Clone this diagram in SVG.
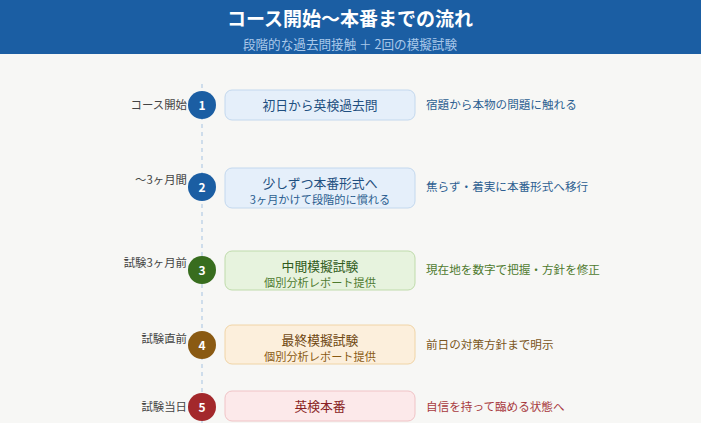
<svg xmlns="http://www.w3.org/2000/svg" width="701" height="423" viewBox="0 0 701 423">
<style>
text{font-family:"Noto Sans CJK JP","Noto Sans",sans-serif}
.lbl{font-size:11.4px;fill:#444;text-anchor:end}
.num{font-size:12px;font-weight:bold;fill:#fff;text-anchor:middle}
.t{font-size:12.8px;text-anchor:middle}
.s{font-size:11.2px;text-anchor:middle}
.r{font-size:11.6px}
</style>
<rect width="701" height="423" fill="#f7f7f5"/>
<rect width="701" height="54" fill="#1b5ea3"/>
<text x="350" y="26" text-anchor="middle" font-size="19" font-weight="bold" fill="#fff">コース開始〜本番までの流れ</text>
<text x="350" y="49" text-anchor="middle" font-size="12.6" fill="#a9c8ea">段階的な過去問接触 ＋ 2回の模擬試験</text>
<g id="connectors">
<line x1="202" y1="84" x2="202" y2="423" stroke="#b4cce4" stroke-width="1.2" stroke-dasharray="4,4"/>
</g>
<g id="n1">
<text class="lbl" x="187" y="109">コース開始</text>
<circle cx="202" cy="105" r="14" fill="#1b5ea3"/><text class="num" x="202" y="109.5">1</text>
<rect x="225" y="90" width="190" height="30" rx="7" fill="#e5effa" stroke="#c3d8ee"/>
<text class="t" x="320" y="110" fill="#1f4f80">初日から英検過去問</text>
<text class="r" x="426" y="109" fill="#2d5f91">宿題から本物の問題に触れる</text>
</g>
<g id="n2">
<text class="lbl" x="187" y="184">〜3ヶ月間</text>
<circle cx="202" cy="187" r="14" fill="#1b5ea3"/><text class="num" x="202" y="191.5">2</text>
<rect x="225" y="168" width="190" height="40" rx="7" fill="#e5effa" stroke="#c3d8ee"/>
<text class="t" x="320" y="188" fill="#1f4f80">少しずつ本番形式へ</text>
<text class="s" x="320" y="204" fill="#2d5f91">3ヶ月かけて段階的に慣れる</text>
<text class="r" x="426" y="191" fill="#2d5f91">焦らず・着実に本番形式へ移行</text>
</g>
<g id="n3">
<text class="lbl" x="187" y="267">試験3ヶ月前</text>
<circle cx="202" cy="270" r="14" fill="#386d1e"/><text class="num" x="202" y="274.5">3</text>
<rect x="225" y="251" width="190" height="39" rx="7" fill="#e7f3de" stroke="#bfdbab"/>
<text class="t" x="320" y="271" fill="#2f5a1a">中間模擬試験</text>
<text class="s" x="320" y="287" fill="#4e7a2e">個別分析レポート提供</text>
<text class="r" x="426" y="274" fill="#4e7a2e">現在地を数字で把握・方針を修正</text>
</g>
<g id="n4">
<text class="lbl" x="187" y="343">試験直前</text>
<circle cx="202" cy="345" r="14" fill="#8a5a12"/><text class="num" x="202" y="349.5">4</text>
<rect x="225" y="325" width="190" height="39" rx="7" fill="#fcefdc" stroke="#f0d4a6"/>
<text class="t" x="320" y="345" fill="#6e4610">最終模擬試験</text>
<text class="s" x="320" y="361" fill="#8a5a12">個別分析レポート提供</text>
<text class="r" x="426" y="349" fill="#7a5520">前日の対策方針まで明示</text>
</g>
<g id="n5">
<text class="lbl" x="187" y="411">試験当日</text>
<circle cx="202" cy="407" r="14" fill="#a3282b"/><text class="num" x="202" y="411.5">5</text>
<rect x="225" y="391" width="190" height="30" rx="7" fill="#fce9ea" stroke="#f0c3c6"/>
<text class="t" x="320" y="411" fill="#8a1f24">英検本番</text>
<text class="r" x="426" y="411" fill="#a83a3e">自信を持って臨める状態へ</text>
</g>
</svg>
